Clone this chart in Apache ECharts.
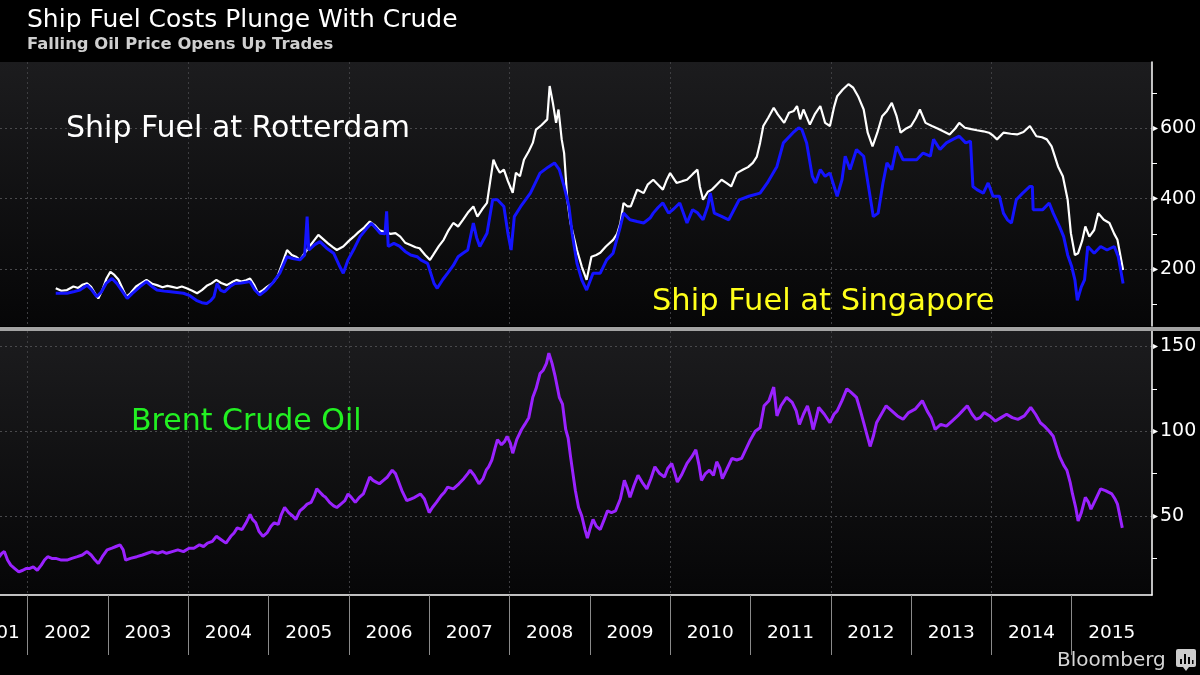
<!DOCTYPE html>
<html>
<head>
<meta charset="utf-8">
<script src="https://cdn.jsdelivr.net/npm/echarts@6/dist/echarts.min.js"></script>
<style>
html,body{margin:0;padding:0;background:#000;}
#c{width:1200px;height:675px;}
</style>
</head>
<body>
<div id="c"></div>
<script>
// ---- data: [decimal year, value] ----
const rotterdamFuel = [[2002.35,145],[2002.42,138],[2002.49,140],[2002.57,150],[2002.63,146],[2002.68,155],[2002.74,159],[2002.79,149],[2002.84,130],[2002.88,116],[2002.93,140],[2002.98,172],[2003.03,192],[2003.08,183],[2003.13,170],[2003.19,140],[2003.23,121],[2003.28,131],[2003.35,150],[2003.42,160],[2003.48,169],[2003.55,158],[2003.61,154],[2003.68,148],[2003.74,152],[2003.80,149],[2003.86,146],[2003.92,150],[2003.98,145],[2004.05,138],[2004.11,131],[2004.17,140],[2004.23,152],[2004.29,159],[2004.35,169],[2004.41,160],[2004.48,154],[2004.54,162],[2004.60,169],[2004.66,164],[2004.72,168],[2004.77,173],[2004.82,155],[2004.87,131],[2004.93,140],[2004.98,149],[2005.05,160],[2005.11,178],[2005.17,215],[2005.23,254],[2005.29,240],[2005.34,235],[2005.39,226],[2005.45,245],[2005.51,264],[2005.57,282],[2005.62,297],[2005.68,285],[2005.74,273],[2005.80,262],[2005.85,254],[2005.93,264],[2006.00,280],[2006.06,292],[2006.12,305],[2006.19,318],[2006.26,335],[2006.32,325],[2006.38,310],[2006.45,305],[2006.52,300],[2006.58,302],[2006.64,292],[2006.70,275],[2006.76,269],[2006.83,262],[2006.88,259],[2006.95,240],[2007.01,226],[2007.05,240],[2007.12,265],[2007.18,283],[2007.24,310],[2007.30,331],[2007.36,321],[2007.42,340],[2007.48,360],[2007.55,378],[2007.60,349],[2007.66,370],[2007.72,388],[2007.76,450],[2007.80,511],[2007.84,490],[2007.88,474],[2007.93,483],[2007.98,450],[2008.04,417],[2008.08,474],[2008.13,464],[2008.18,511],[2008.24,535],[2008.29,559],[2008.33,597],[2008.40,610],[2008.47,626],[2008.50,721],[2008.54,673],[2008.58,616],[2008.61,654],[2008.65,569],[2008.68,530],[2008.70,464],[2008.72,397],[2008.76,330],[2008.80,292],[2008.84,254],[2008.90,207],[2008.96,169],[2009.02,235],[2009.08,240],[2009.13,246],[2009.20,264],[2009.29,283],[2009.34,300],[2009.38,330],[2009.42,388],[2009.47,378],[2009.51,378],[2009.59,426],[2009.67,416],[2009.72,440],[2009.79,454],[2009.85,440],[2009.91,426],[2009.96,455],[2010.00,473],[2010.08,445],[2010.15,450],[2010.21,454],[2010.28,470],[2010.34,483],[2010.37,435],[2010.41,397],[2010.47,420],[2010.52,426],[2010.58,440],[2010.64,454],[2010.70,445],[2010.76,435],[2010.83,473],[2010.91,483],[2010.97,490],[2011.03,502],[2011.08,520],[2011.12,559],[2011.16,607],[2011.22,630],[2011.29,659],[2011.34,640],[2011.42,616],[2011.48,645],[2011.54,650],[2011.58,664],[2011.62,626],[2011.66,654],[2011.74,611],[2011.80,640],[2011.87,664],[2011.93,616],[2011.99,607],[2012.04,660],[2012.08,692],[2012.15,711],[2012.22,726],[2012.28,716],[2012.34,692],[2012.41,654],[2012.46,588],[2012.52,549],[2012.58,588],[2012.64,635],[2012.70,650],[2012.76,673],[2012.82,635],[2012.87,588],[2012.94,600],[2013.00,607],[2013.06,630],[2013.11,654],[2013.18,616],[2013.26,607],[2013.33,600],[2013.40,592],[2013.48,583],[2013.55,600],[2013.60,616],[2013.67,602],[2013.75,598],[2013.82,595],[2013.90,592],[2013.97,588],[2014.02,580],[2014.07,569],[2014.15,588],[2014.24,585],[2014.32,583],[2014.40,590],[2014.48,607],[2014.56,578],[2014.63,575],[2014.69,569],[2014.75,549],[2014.83,492],[2014.89,464],[2014.95,397],[2014.99,302],[2015.04,240],[2015.08,245],[2015.13,280],[2015.17,321],[2015.22,292],[2015.28,311],[2015.33,359],[2015.40,340],[2015.47,331],[2015.53,300],[2015.57,283],[2015.64,197]];

const singaporeFuel = [[2002.35,131],[2002.42,131],[2002.49,131],[2002.57,135],[2002.65,140],[2002.74,154],[2002.80,140],[2002.86,121],[2002.92,135],[2002.98,160],[2003.05,173],[2003.11,159],[2003.17,140],[2003.24,116],[2003.30,130],[2003.40,150],[2003.48,164],[2003.55,150],[2003.61,140],[2003.70,137],[2003.78,135],[2003.86,133],[2003.94,131],[2004.02,124],[2004.10,111],[2004.17,104],[2004.23,102],[2004.28,110],[2004.32,121],[2004.36,159],[2004.40,140],[2004.45,135],[2004.52,150],[2004.58,159],[2004.66,160],[2004.77,164],[2004.83,140],[2004.89,126],[2004.97,140],[2005.05,160],[2005.14,188],[2005.23,235],[2005.30,230],[2005.39,226],[2005.45,240],[2005.48,349],[2005.50,254],[2005.58,270],[2005.64,278],[2005.72,260],[2005.81,245],[2005.88,210],[2005.93,188],[2005.99,226],[2006.07,260],[2006.14,292],[2006.22,315],[2006.28,330],[2006.34,315],[2006.39,302],[2006.45,300],[2006.47,364],[2006.49,264],[2006.56,273],[2006.63,265],[2006.70,250],[2006.77,240],[2006.85,235],[2006.90,225],[2006.98,216],[2007.06,159],[2007.10,145],[2007.17,170],[2007.23,188],[2007.30,210],[2007.36,235],[2007.42,245],[2007.48,254],[2007.55,331],[2007.59,290],[2007.63,264],[2007.72,302],[2007.79,397],[2007.85,397],[2007.93,378],[2007.98,302],[2008.02,254],[2008.06,349],[2008.14,378],[2008.26,416],[2008.38,473],[2008.48,490],[2008.56,502],[2008.62,483],[2008.68,435],[2008.74,378],[2008.78,302],[2008.84,216],[2008.90,169],[2008.96,140],[2009.04,188],[2009.13,188],[2009.21,226],[2009.29,245],[2009.38,321],[2009.42,359],[2009.50,340],[2009.59,335],[2009.67,331],[2009.75,345],[2009.79,359],[2009.85,375],[2009.91,388],[2009.98,359],[2010.04,370],[2010.12,388],[2010.21,331],[2010.28,369],[2010.34,360],[2010.41,340],[2010.47,380],[2010.50,416],[2010.55,359],[2010.64,350],[2010.73,340],[2010.86,397],[2010.98,407],[2011.12,416],[2011.21,445],[2011.33,492],[2011.41,559],[2011.53,588],[2011.60,602],[2011.64,597],[2011.70,559],[2011.77,464],[2011.81,445],[2011.87,483],[2011.93,464],[2011.99,473],[2012.08,407],[2012.14,454],[2012.18,521],[2012.24,483],[2012.32,540],[2012.41,521],[2012.47,435],[2012.53,349],[2012.59,359],[2012.65,445],[2012.70,502],[2012.76,483],[2012.82,549],[2012.90,511],[2012.98,511],[2013.07,511],[2013.15,530],[2013.24,521],[2013.28,569],[2013.36,540],[2013.44,559],[2013.52,569],[2013.60,578],[2013.68,559],[2013.74,564],[2013.77,435],[2013.82,426],[2013.90,416],[2013.96,445],[2014.02,407],[2014.10,407],[2014.15,359],[2014.20,340],[2014.25,331],[2014.31,397],[2014.39,416],[2014.48,435],[2014.51,435],[2014.52,369],[2014.64,369],[2014.72,388],[2014.77,359],[2014.85,320],[2014.90,292],[2014.95,240],[2015.00,207],[2015.04,169],[2015.07,111],[2015.12,149],[2015.16,169],[2015.20,264],[2015.28,245],[2015.36,264],[2015.44,254],[2015.53,264],[2015.58,235],[2015.61,197],[2015.64,159]];

const brentCrude = [[2001.45,27],[2001.52,25],[2001.58,26],[2001.63,25],[2001.68,28],[2001.71,29],[2001.75,24],[2001.79,21],[2001.84,19],[2001.89,17],[2001.94,18],[2001.98,19],[2002.02,19],[2002.07,20],[2002.12,18],[2002.17,21],[2002.21,24],[2002.25,26],[2002.30,25],[2002.35,25],[2002.42,24],[2002.49,24],[2002.55,25],[2002.62,26],[2002.68,27],[2002.74,29],[2002.79,27],[2002.84,24],[2002.88,22],[2002.93,26],[2002.99,30],[2003.05,31],[2003.10,32],[2003.15,33],[2003.19,30],[2003.22,24],[2003.28,25],[2003.36,26],[2003.43,27],[2003.49,28],[2003.55,29],[2003.62,28],[2003.68,29],[2003.73,28],[2003.80,29],[2003.87,30],[2003.94,29],[2004.01,31],[2004.07,31],[2004.14,33],[2004.19,32],[2004.24,34],[2004.30,35],[2004.35,38],[2004.41,36],[2004.47,34],[2004.53,38],[2004.57,40],[2004.61,43],[2004.67,42],[2004.72,46],[2004.77,51],[2004.80,48],[2004.84,46],[2004.88,41],[2004.93,38],[2004.98,40],[2005.03,44],[2005.07,46],[2005.12,45],[2005.16,51],[2005.20,55],[2005.25,52],[2005.30,50],[2005.34,48],[2005.39,53],[2005.44,55],[2005.48,57],[2005.53,58],[2005.57,62],[2005.60,66],[2005.64,64],[2005.68,62],[2005.71,61],[2005.76,58],[2005.81,56],[2005.85,55],[2005.90,57],[2005.95,59],[2005.99,63],[2006.03,61],[2006.08,58],[2006.13,61],[2006.18,63],[2006.22,68],[2006.26,73],[2006.30,71],[2006.34,70],[2006.38,69],[2006.43,71],[2006.48,73],[2006.54,77],[2006.58,75],[2006.62,70],[2006.66,65],[2006.72,59],[2006.77,60],[2006.82,61],[2006.89,63],[2006.94,60],[2007.00,52],[2007.04,55],[2007.09,58],[2007.15,62],[2007.19,64],[2007.23,67],[2007.30,66],[2007.37,69],[2007.43,72],[2007.48,75],[2007.51,77],[2007.56,74],[2007.62,69],[2007.67,72],[2007.71,77],[2007.74,79],[2007.78,83],[2007.82,90],[2007.85,95],[2007.90,92],[2007.94,94],[2007.97,97],[2008.01,93],[2008.04,87],[2008.09,95],[2008.15,101],[2008.19,104],[2008.24,108],[2008.29,120],[2008.33,125],[2008.38,134],[2008.42,136],[2008.46,140],[2008.49,146],[2008.53,140],[2008.57,132],[2008.62,120],[2008.66,116],[2008.70,101],[2008.73,96],[2008.76,85],[2008.79,75],[2008.82,65],[2008.86,55],[2008.90,50],[2008.94,42],[2008.97,37],[2009.00,42],[2009.04,48],[2009.08,44],[2009.13,42],[2009.18,48],[2009.22,53],[2009.27,52],[2009.32,53],[2009.38,60],[2009.43,71],[2009.47,66],[2009.50,61],[2009.55,68],[2009.60,74],[2009.65,70],[2009.71,66],[2009.76,72],[2009.81,79],[2009.87,75],[2009.93,73],[2009.97,78],[2010.02,81],[2010.06,75],[2010.09,70],[2010.14,74],[2010.21,81],[2010.27,85],[2010.32,89],[2010.36,80],[2010.39,71],[2010.44,75],[2010.49,77],[2010.54,74],[2010.58,82],[2010.62,78],[2010.65,72],[2010.71,78],[2010.77,84],[2010.83,83],[2010.89,84],[2010.95,90],[2011.00,95],[2011.06,100],[2011.12,102],[2011.17,115],[2011.23,118],[2011.29,126],[2011.33,109],[2011.38,115],[2011.45,120],[2011.52,117],[2011.57,112],[2011.61,104],[2011.66,110],[2011.71,115],[2011.75,108],[2011.78,101],[2011.82,108],[2011.85,114],[2011.92,110],[2011.99,105],[2012.04,110],[2012.08,112],[2012.14,118],[2012.20,125],[2012.25,123],[2012.32,120],[2012.37,112],[2012.41,105],[2012.45,98],[2012.49,91],[2012.53,97],[2012.57,105],[2012.63,110],[2012.69,115],[2012.76,112],[2012.83,109],[2012.90,107],[2012.97,111],[2013.05,113],[2013.14,118],[2013.20,112],[2013.25,108],[2013.30,101],[2013.37,104],[2013.44,103],[2013.51,106],[2013.58,109],[2013.64,112],[2013.70,115],[2013.76,110],[2013.81,107],[2013.86,108],[2013.91,111],[2013.98,109],[2014.05,106],[2014.12,108],[2014.19,110],[2014.26,108],[2014.33,107],[2014.41,109],[2014.49,114],[2014.55,110],[2014.61,105],[2014.66,103],[2014.72,100],[2014.77,97],[2014.81,91],[2014.85,85],[2014.90,80],[2014.94,77],[2014.98,70],[2015.01,63],[2015.05,55],[2015.08,47],[2015.12,52],[2015.17,61],[2015.21,58],[2015.24,54],[2015.30,60],[2015.36,66],[2015.42,65],[2015.50,63],[2015.54,60],[2015.57,57],[2015.60,50],[2015.63,43]];

const yearLabels = [2001,2002,2003,2004,2005,2006,2007,2008,2009,2010,2011,2012,2013,2014,2015];
const fuelTicks = [200,400,600];
const fuelMinorTicks = [100,300,500,700];
const crudeTicks = [50,100,150];
const crudeMinorTicks = [25,75,125];

// ---- chart ----
const FONT = 'DejaVu Sans';
const X_MIN = 2001.656, X_MAX = 2016;
const chart = echarts.init(document.getElementById('c'), null, {renderer:'canvas'});

const panelBg = {type:'linear', x:0, y:0, x2:0, y2:1,
  colorStops:[{offset:0, color:'#1c1c1e'},{offset:1, color:'#060607'}]};
const gridLine = {color:'#4a4a4d', type:[2,3], width:1};
const vGridLine = {color:['#3e3e41','rgba(0,0,0,0)'], type:[2,3], width:1};

// year boundaries inside the visible range, and mid-year label anchors
const yearBounds = yearLabels.filter(y => y >= X_MIN);
const labelPos = yearLabels.map(y => Math.max(y + 0.5, X_MIN + 0.002));

function mainY(grid, min, max, ticks){
  return {gridIndex:grid, type:'value', position:'right', min:min, max:max,
    axisLine:{show:true, lineStyle:{color:'#ffffff', width:1.5}},
    axisTick:{show:false, customValues:ticks},
    axisLabel:{show:true, customValues:ticks, margin:1,
      formatter: v => '{t|\u25B8}{v|' + v + '}',
      rich:{t:{fontSize:10, color:'#ffffff', fontFamily:FONT, padding:[0,2,0,0]},
            v:{fontSize:19, color:'#ffffff', fontFamily:FONT}}},
    splitLine:{show:true, lineStyle:gridLine}};
}
function minorY(grid, min, max, ticks){
  return {gridIndex:grid, type:'value', position:'right', min:min, max:max,
    axisLine:{show:false},
    axisTick:{show:true, customValues:ticks, length:5, lineStyle:{color:'#ffffff', width:1}},
    axisLabel:{show:false}, splitLine:{show:false}};
}

const option = {
  backgroundColor:'#000000',
  animation:false,
  grid:[
    {left:0, right:48, top:62, height:264, show:true, backgroundColor:panelBg, borderWidth:0,
      outerBoundsMode:'none', containLabel:false},
    {left:0, right:48, top:331, height:264, show:true, backgroundColor:panelBg, borderWidth:0,
      outerBoundsMode:'none', containLabel:false}
  ],
  xAxis:[
    {gridIndex:0, type:'value', min:X_MIN, max:X_MAX,
      axisLine:{show:false}, axisTick:{show:false, customValues:yearBounds},
      axisLabel:{show:false}, splitLine:{show:true, lineStyle:vGridLine}},
    {gridIndex:1, type:'value', min:X_MIN, max:X_MAX,
      axisLine:{show:true, lineStyle:{color:'#ffffff', width:1.5}},
      axisTick:{show:true, customValues:yearBounds, length:60, lineStyle:{color:'#8a8a8a', width:1}},
      axisLabel:{show:true, customValues:labelPos, margin:29,
        formatter: v => (v < X_MIN + 0.01) ? '{f|' + Math.floor(v) + '}' : String(Math.floor(v)),
        rich:{f:{color:'#ffffff', fontFamily:FONT, fontSize:18.5, padding:[0,8,0,0]}},
        color:'#ffffff', fontFamily:FONT, fontSize:18.5},
      splitLine:{show:true, lineStyle:vGridLine}}
  ],
  yAxis:[
    mainY(0, 37.7, 789.3, fuelTicks),
    minorY(0, 37.7, 789.3, fuelMinorTicks),
    mainY(1, 3.4, 159.1, crudeTicks),
    minorY(1, 3.4, 159.1, crudeMinorTicks)
  ],
  series:[
    {name:'Ship Fuel at Rotterdam', type:'line', xAxisIndex:0, yAxisIndex:0, data:rotterdamFuel,
      showSymbol:false, lineStyle:{color:'#ffffff', width:2.2}, z:3},
    {name:'Ship Fuel at Singapore', type:'line', xAxisIndex:0, yAxisIndex:0, data:singaporeFuel,
      showSymbol:false, lineStyle:{color:'#1414ff', width:3}, z:4},
    {name:'Brent Crude Oil', type:'line', xAxisIndex:1, yAxisIndex:2, data:brentCrude,
      showSymbol:false, lineStyle:{color:'#9a22ff', width:3}, z:3}
  ],
  graphic:[
    {type:'rect', shape:{x:0, y:327, width:1200, height:4}, style:{fill:'#a3a3a3'}, z:10},
    {type:'text', x:27, y:20, style:{text:'Ship Fuel Costs Plunge With Crude', fill:'#ffffff',
      font:'25px "DejaVu Sans"', verticalAlign:'middle'}, z:10},
    {type:'text', x:27, y:45, style:{text:'Falling Oil Price Opens Up Trades', fill:'#cfcfcf',
      font:'bold 16.4px "DejaVu Sans"', verticalAlign:'middle'}, z:10},
    {type:'text', x:66, y:129, style:{text:'Ship Fuel at Rotterdam', fill:'#ffffff',
      font:'30px "DejaVu Sans"', verticalAlign:'middle'}, z:10},
    {type:'text', x:652, y:302, style:{text:'Ship Fuel at Singapore', fill:'#ffff1a',
      font:'30.5px "DejaVu Sans"', verticalAlign:'middle'}, z:10},
    {type:'text', x:131, y:422, style:{text:'Brent Crude Oil', fill:'#22f022',
      font:'30px "DejaVu Sans"', verticalAlign:'middle'}, z:10},
    {type:'text', x:1057, y:661, style:{text:'Bloomberg', fill:'#d6d6d6',
      font:'20px "DejaVu Sans"', verticalAlign:'middle'}, z:10},
    {type:'rect', shape:{x:1176, y:649, width:20, height:18, r:2}, style:{fill:'#cccccc'}, z:10},
    {type:'polygon', shape:{points:[[1183,667],[1189,667],[1186,671]]}, style:{fill:'#cccccc'}, z:10},
    {type:'rect', shape:{x:1180, y:659, width:2, height:5}, style:{fill:'#000000'}, z:11},
    {type:'rect', shape:{x:1184, y:654, width:2, height:10}, style:{fill:'#000000'}, z:11},
    {type:'rect', shape:{x:1188, y:657, width:2, height:7}, style:{fill:'#000000'}, z:11},
    {type:'rect', shape:{x:1192, y:660, width:1.5, height:4}, style:{fill:'#000000'}, z:11}
  ]
};
chart.setOption(option);
</script>
</body>
</html>
